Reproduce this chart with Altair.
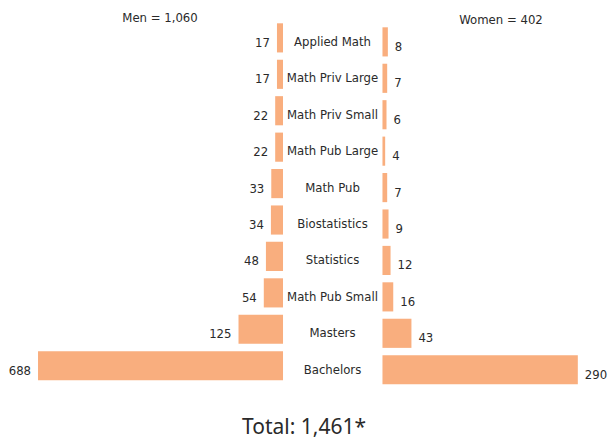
import altair as alt
import pandas as pd

categories = ["Applied Math", "Math Priv Large", "Math Priv Small", "Math Pub Large",
              "Math Pub", "Biostatistics", "Statistics", "Math Pub Small", "Masters", "Bachelors"]
men = [17, 17, 22, 22, 33, 34, 48, 54, 125, 688]
women = [8, 7, 6, 4, 7, 9, 12, 16, 43, 290]
men_title = ["Men = 1,060"]
women_title = ["Women = 402"]
total_title = ["Total: 1,461*"]

df = pd.DataFrame({"category": categories, "men": men, "women": women})

W, H = 600, 431
BAR = "#F9AE7E"
TXT = "#2a2a2a"
COND = "Liberation Sans Narrow, Arial Narrow, DejaVu Sans Condensed, sans-serif"

yenc = alt.Y("category:N", sort=categories, axis=None,
             scale=alt.Scale(range=[15.3, 372.3], paddingInner=0.2, paddingOuter=0))

men_scale = alt.Scale(domain=[-912.6, 772.3], reverse=True, nice=False, zero=False)
women_scale = alt.Scale(domain=[-555.9, 334.8], nice=False, zero=False)

base = alt.Chart(df)

men_bar = base.mark_bar(color=BAR).encode(
    x=alt.X("men:Q", scale=men_scale, axis=None), x2=alt.datum(0), y=yenc)
men_txt = base.mark_text(align="right", baseline="alphabetic", dx=-7, dy=9,
                         font=COND, fontSize=13, color=TXT).encode(
    x=alt.X("men:Q", scale=men_scale, axis=None), y=yenc, text="men:Q")
men_layer = alt.layer(men_bar, men_txt)

women_bar = base.mark_bar(color=BAR, yOffset=4, y2Offset=4).encode(
    x=alt.X("women:Q", scale=women_scale, axis=None), x2=alt.datum(0), y=yenc)
women_txt = base.mark_text(align="left", baseline="alphabetic", dx=7, dy=13,
                           font=COND, fontSize=13, color=TXT).encode(
    x=alt.X("women:Q", scale=women_scale, axis=None), y=yenc, text="women:Q")
women_layer = alt.layer(women_bar, women_txt)

cat_txt = base.mark_text(align="center", baseline="alphabetic", dy=8,
                         font=COND, fontSize=13, color=TXT).encode(
    x=alt.value(324.5), y=yenc, text="category:N")

t_men = alt.Chart(pd.DataFrame({"t": men_title})).mark_text(
    align="center", baseline="alphabetic", font=COND, fontSize=13, color=TXT).encode(
    x=alt.value(152), y=alt.value(13.6), text="t:N")
t_women = alt.Chart(pd.DataFrame({"t": women_title})).mark_text(
    align="center", baseline="alphabetic", font=COND, fontSize=13, color=TXT).encode(
    x=alt.value(493), y=alt.value(16.4), text="t:N")
t_total = alt.Chart(pd.DataFrame({"t": total_title})).mark_text(
    align="center", baseline="alphabetic", font="Noto Sans", fontSize=21, color=TXT).encode(
    x=alt.value(296), y=alt.value(426), text="t:N")

chart = alt.layer(men_layer, women_layer, cat_txt, t_men, t_women, t_total).resolve_scale(
    x="independent"
).properties(
    width=W, height=H, autosize=alt.AutoSizeParams(type="none"), padding=0
).configure_view(stroke=None)

chart.save("out.html", embed_options={"renderer": "svg", "actions": False})
